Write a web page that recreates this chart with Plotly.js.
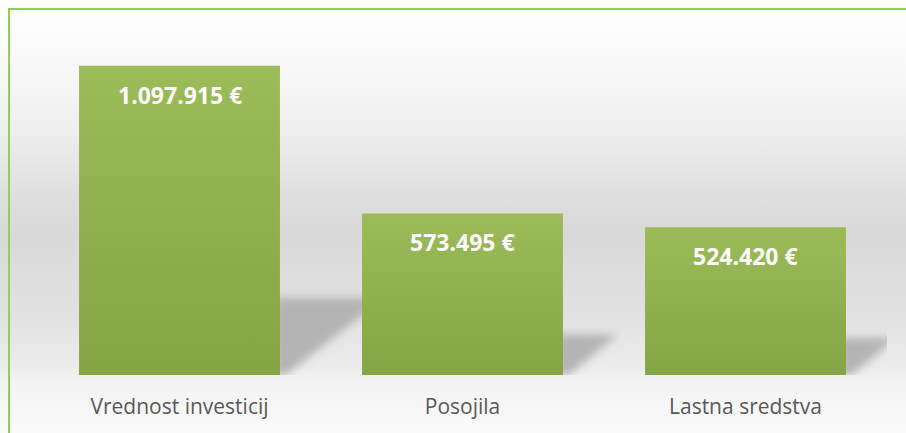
<!DOCTYPE html>
<html>
<head>
<meta charset="utf-8">
<script src="https://cdn.plot.ly/plotly-3.0.1.min.js"></script>
<style>
  html, body { margin: 0; padding: 0; background: #ffffff; }
  #wrap {
    position: relative; width: 906px; height: 433px; overflow: hidden;
    background: linear-gradient(to bottom, #ffffff 0%, #fbfbfb 12%, #eeeeee 30%, #dcdcdc 48%, #d9d9d9 55%, #e1e1e1 72%, #ececec 85%, #f3f3f3 88%, #fbfbfb 100%);
  }
  #frame {
    position: absolute; left: 8px; top: 8px; width: 940px; height: 470px;
    border: 2px solid #92d050; box-sizing: border-box;
  }
  #chart { position: absolute; left: 0; top: 0; width: 906px; height: 433px; }
</style>
</head>
<body>
<div id="wrap">
  <div id="frame"></div>
  <div id="chart"></div>
</div>
<script>
// ---- data ----
const categories = ['Vrednost investicij', 'Posojila', 'Lastna sredstva'];
const values = [1097915, 573495, 524420];
const currency = '€';

// ---- helpers ----
function fmt(v) {
  return String(Math.round(v)).replace(/\B(?=(\d{3})+(?!\d))/g, '.') + ' ' + currency;
}
const barWidth = 0.71;
const vmax = Math.max.apply(null, values);

// shadow polygons derived from the data (drawn on a hidden linear axis)
const shadowTraces = values.map(function (v, i) {
  const xr = i + barWidth / 2;
  const h = 0.25 * v;
  const reach = 0.37 * v / vmax;
  return {
    type: 'scatter', xaxis: 'x', yaxis: 'y', mode: 'none',
    x: [xr - 0.02, xr - 0.02, xr + reach, xr + 0.02, xr - 0.02],
    y: [0, h, h, 0, 0],
    fill: 'toself', fillcolor: '#b4b4b4',
    hoverinfo: 'skip', showlegend: false
  };
});

const barTrace = {
  type: 'bar', xaxis: 'x2', yaxis: 'y',
  x: categories, y: values, width: barWidth,
  marker: { color: '#92b150', line: { width: 0 } },
  hoverinfo: 'none', showlegend: false
};

const annotations = values.map(function (v, i) {
  return {
    xref: 'x2', yref: 'y', x: categories[i], y: v,
    yanchor: 'middle', yshift: -29, showarrow: false,
    text: fmt(v),
    font: { family: 'Open Sans, sans-serif', size: 23, color: '#ffffff', weight: 'bold' }
  };
});

const layout = {
  width: 906, height: 433,
  margin: { l: 38, r: 19, t: 37, b: 58, pad: 0 },
  paper_bgcolor: 'rgba(0,0,0,0)', plot_bgcolor: 'rgba(0,0,0,0)',
  showlegend: false,
  xaxis: { type: 'linear', range: [-0.5, 2.5], visible: false, fixedrange: true },
  xaxis2: {
    type: 'category', overlaying: 'x', side: 'bottom', range: [-0.5, 2.5],
    showgrid: false, showline: false, zeroline: false, ticks: '',
    ticklabelstandoff: 17,
    tickfont: { family: 'Open Sans, sans-serif', size: 21, color: '#595959' }
  },
  yaxis: { range: [0, 1200000], visible: false, fixedrange: true },
  annotations: annotations
};

Plotly.newPlot('chart', shadowTraces.concat([barTrace]), layout, { displayModeBar: false, staticPlot: true })
.then(function (gd) {
  try {
    const svgNS = 'http://www.w3.org/2000/svg';
    const svg = gd.querySelector('.main-svg');
    const defs = document.createElementNS(svgNS, 'defs');
    defs.innerHTML =
      '<linearGradient id="barGrad" x1="0" y1="0" x2="0" y2="1">' +
      '<stop offset="0" stop-color="#9cbb59"/>' +
      '<stop offset="1" stop-color="#85a445"/>' +
      '</linearGradient>' +
      '<filter id="shBlur" x="-30%" y="-30%" width="160%" height="160%">' +
      '<feGaussianBlur stdDeviation="4"/></filter>';
    svg.insertBefore(defs, svg.firstChild);
    gd.querySelectorAll('.barlayer .point path').forEach(function (p) {
      p.style.fill = 'url(#barGrad)';
    });
    gd.querySelectorAll('.scatterlayer path.js-fill').forEach(function (p) {
      p.setAttribute('filter', 'url(#shBlur)');
    });
  } catch (e) {}
});
</script>
</body>
</html>
